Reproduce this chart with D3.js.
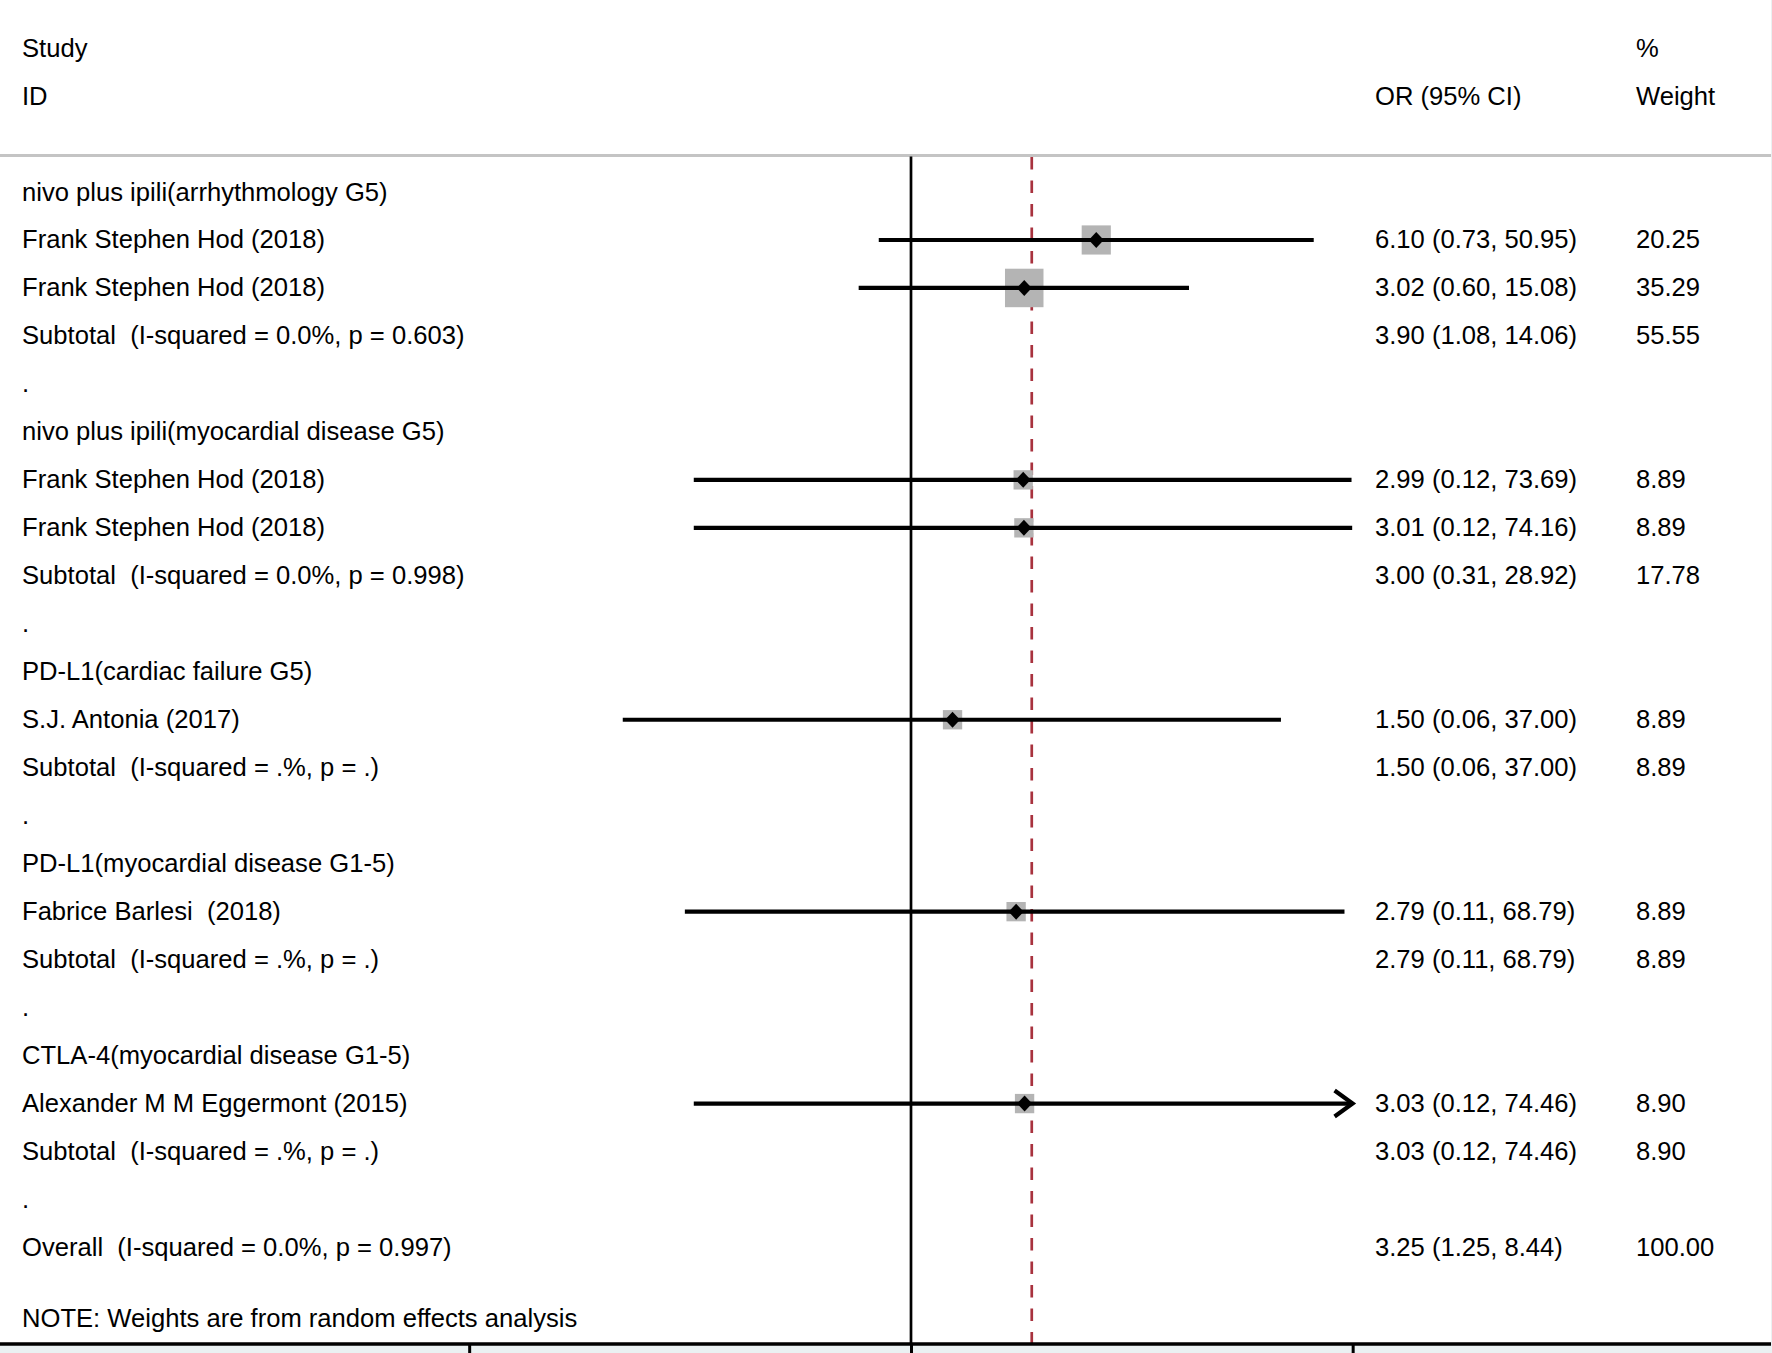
<!DOCTYPE html>
<html>
<head>
<meta charset="utf-8">
<script src="https://cdn.jsdelivr.net/npm/d3@7"></script>
<style>
  html, body { margin: 0; padding: 0; background: #ffffff; }
  svg { display: block; }
  text { font-family: "Liberation Sans", Arial, sans-serif; font-size: 25.6px; fill: #000; white-space: pre; }
</style>
</head>
<body>
<svg id="chart" width="1772" height="1353"></svg>
<script>
// ---------- data ----------
const rowLabels = [
  "nivo plus ipili(arrhythmology G5)",
  "Frank Stephen Hod (2018)",
  "Frank Stephen Hod (2018)",
  "Subtotal  (I-squared = 0.0%, p = 0.603)",
  ".",
  "nivo plus ipili(myocardial disease G5)",
  "Frank Stephen Hod (2018)",
  "Frank Stephen Hod (2018)",
  "Subtotal  (I-squared = 0.0%, p = 0.998)",
  ".",
  "PD-L1(cardiac failure G5)",
  "S.J. Antonia (2017)",
  "Subtotal  (I-squared = .%, p = .)",
  ".",
  "PD-L1(myocardial disease G1-5)",
  "Fabrice Barlesi  (2018)",
  "Subtotal  (I-squared = .%, p = .)",
  ".",
  "CTLA-4(myocardial disease G1-5)",
  "Alexander M M Eggermont (2015)",
  "Subtotal  (I-squared = .%, p = .)",
  ".",
  "Overall  (I-squared = 0.0%, p = 0.997)"
];
// row type: h = group header, s = study, t = subtotal, b = blank, o = overall
const rowTypes = ["h","s","s","t","b","h","s","s","t","b","h","s","t","b","h","s","t","b","h","s","t","b","o"];
const orValues = [null, 6.10, 3.02, 3.90, null, null, 2.99, 3.01, 3.00, null, null, 1.50, 1.50, null, null, 2.79, 2.79, null, null, 3.03, 3.03, null, 3.25];
const ciLow    = [null, 0.73, 0.60, 1.08, null, null, 0.12, 0.12, 0.31, null, null, 0.06, 0.06, null, null, 0.11, 0.11, null, null, 0.12, 0.12, null, 1.25];
const ciHigh   = [null, 50.95, 15.08, 14.06, null, null, 73.69, 74.16, 28.92, null, null, 37.00, 37.00, null, null, 68.79, 68.79, null, null, 74.46, 74.46, null, 8.44];
const weights  = [null, 20.25, 35.29, 55.55, null, null, 8.89, 8.89, 17.78, null, null, 8.89, 8.89, null, null, 8.89, 8.89, null, null, 8.90, 8.90, null, 100.00];
const overallOR = 3.25;
const axisTicks = [0.0134, 1, 74.5];
const axisMin = 1 / 74.46, axisMax = 74.46;
const noteText = "NOTE: Weights are from random effects analysis";

// ---------- layout ----------
const W = 1772, H = 1353;
const svg = d3.select("#chart");
const plotTop = 155, axisY = 1344, frameRight = 1771;

const x = d3.scaleLog().domain([axisMin, axisMax]).range([469.4, 1352.6]);
const y = d3.scaleLinear().domain([0, rowLabels.length - 1]).range([192, 1247.5]);
const boxSide = d3.scaleSqrt().domain([0, 35.29]).range([0, 38.5]);

// outer background (graph region)
svg.append("rect").attr("x", 0).attr("y", 0).attr("width", W).attr("height", H).attr("fill", "#eaf1f2");
svg.append("rect").attr("x", 0).attr("y", 0).attr("width", frameRight).attr("height", axisY).attr("fill", "#ffffff");

const baseShift = 8.5;

// header texts
svg.append("text").attr("x", 22).attr("y", 48.6 + baseShift).text("Study");
svg.append("text").attr("x", 22).attr("y", 96 + baseShift).text("ID");
svg.append("text").attr("x", 1375).attr("y", 96 + baseShift).text("OR (95% CI)");
svg.append("text").attr("x", 1636).attr("y", 48.6 + baseShift).text("%");
svg.append("text").attr("x", 1636).attr("y", 96 + baseShift).text("Weight");

// header separator
svg.append("line").attr("x1", 0).attr("x2", frameRight).attr("y1", 155.5).attr("y2", 155.5)
  .attr("stroke", "#c4c4c4").attr("stroke-width", 3);

// overall dashed line
svg.append("line").attr("x1", x(overallOR)).attr("x2", x(overallOR))
  .attr("y1", plotTop + 2).attr("y2", axisY)
  .attr("stroke", "#a8323e").attr("stroke-width", 2.7).attr("stroke-dasharray", "12.5,11");

const rows = rowLabels.map((label, i) => ({
  label, type: rowTypes[i], or: orValues[i], lo: ciLow[i], hi: ciHigh[i], w: weights[i], i
}));
const studies = rows.filter(d => d.type === "s");

// boxes (weight squares)
svg.append("g").selectAll("rect").data(studies).join("rect")
  .attr("x", d => x(d.or) - boxSide(d.w) / 2)
  .attr("y", d => y(d.i) - boxSide(d.w) / 2)
  .attr("width", d => boxSide(d.w))
  .attr("height", d => boxSide(d.w))
  .attr("fill", "#b4b4b4");

// CI lines
svg.append("g").selectAll("line").data(studies).join("line")
  .attr("x1", d => x(Math.max(d.lo, axisMin)))
  .attr("x2", d => x(Math.min(d.hi, axisMax)))
  .attr("y1", d => y(d.i)).attr("y2", d => y(d.i))
  .attr("stroke", "#000").attr("stroke-width", 4.2);

// arrows for CIs reaching the axis limit
svg.append("g").selectAll("path").data(studies.filter(d => d.hi >= axisMax)).join("path")
  .attr("d", d => {
    const tx = x(axisMax), ty = y(d.i);
    return `M${tx - 18},${ty - 13} L${tx},${ty} L${tx - 18},${ty + 13}`;
  })
  .attr("fill", "none").attr("stroke", "#000").attr("stroke-width", 4.2)
  .attr("stroke-linejoin", "miter");

// null line
svg.append("line").attr("x1", x(1)).attr("x2", x(1)).attr("y1", plotTop + 1.5).attr("y2", axisY)
  .attr("stroke", "#000").attr("stroke-width", 2.7);

// point diamonds
svg.append("g").selectAll("path").data(studies).join("path")
  .attr("d", d => {
    const cx = x(d.or), cy = y(d.i);
    return `M${cx - 7.5},${cy} L${cx},${cy - 8} L${cx + 7.5},${cy} L${cx},${cy + 8} Z`;
  })
  .attr("fill", "#000");

// left labels
svg.append("g").selectAll("text").data(rows).join("text")
  .attr("x", 22).attr("y", d => y(d.i) + baseShift)
  .text(d => d.label);

// estimates
const fmt = d3.format(".2f");
svg.append("g").selectAll("text").data(rows.filter(d => d.or != null)).join("text")
  .attr("x", 1375).attr("y", d => y(d.i) + baseShift)
  .text(d => `${fmt(d.or)} (${fmt(d.lo)}, ${fmt(d.hi)})`);

// weights
svg.append("g").selectAll("text").data(rows.filter(d => d.w != null)).join("text")
  .attr("x", 1636).attr("y", d => y(d.i) + baseShift)
  .text(d => fmt(d.w));

// note
svg.append("text").attr("x", 22).attr("y", 1318.7 + baseShift).text(noteText);

// bottom axis
svg.append("line").attr("x1", 0).attr("x2", frameRight).attr("y1", axisY).attr("y2", axisY)
  .attr("stroke", "#000").attr("stroke-width", 3.6);
const axis = d3.axisBottom(x).tickValues(axisTicks).tickSize(12).tickFormat("");
const ag = svg.append("g").attr("transform", `translate(0,${axisY})`).call(axis);
ag.select(".domain").remove();
ag.selectAll(".tick line").attr("stroke", "#000").attr("stroke-width", 3);
</script>
</body>
</html>
